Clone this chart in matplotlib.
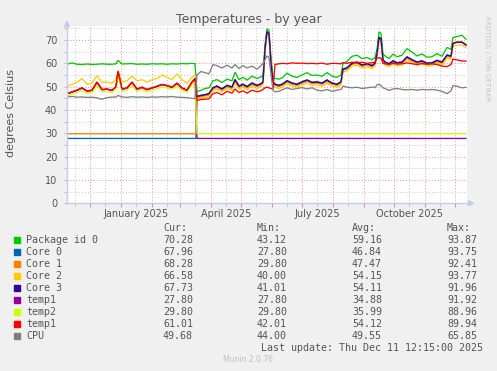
import numpy as np
import matplotlib
matplotlib.use('Agg')
import matplotlib.pyplot as plt
import matplotlib.dates as mdates
from matplotlib.ticker import MultipleLocator, NullFormatter, FuncFormatter
from matplotlib.patches import Rectangle, Polygon
from matplotlib.lines import Line2D

# ---------------- data ----------------
START = np.datetime64('2024-11-08')
SPAN_DAYS = 400

EARLY_DAYS = [0, 5, 10, 15, 20, 25, 30, 35, 40, 45,
              49, 51, 55, 60, 65, 70, 75, 80, 85, 90,
              95, 100, 105, 110, 115, 120, 125, 128]
LATE_DAYS = [130, 134, 138, 142, 146, 150, 155, 160, 165, 168,
             172, 176, 180, 185, 190, 194, 196, 198, 200, 202,
             204, 206, 208, 212, 216, 220, 225, 230, 235, 240,
             245, 250, 255, 260, 265, 270, 274, 276, 280, 285,
             290, 295, 300, 305, 308, 310, 312, 314, 316, 318,
             322, 326, 330, 335, 340, 345, 350, 355, 360, 365,
             370, 375, 380, 384, 386, 390, 395, 399]
FLAT_EARLY_DAYS = [0, 129]
FLAT_LATE_DAYS = [130, 399]

pkg_early = [59.6, 60.2, 59.6, 59.5, 59.7, 59.5, 59.6, 59.8, 59.6, 59.6,
             59.8, 61.3, 59.7, 59.8, 59.9, 59.6, 59.7, 59.6, 59.8, 59.7,
             59.8, 59.6, 59.8, 59.7, 59.9, 59.8, 60.0, 59.8]
pkg_late = [47.8, 48.5, 49.2, 49.5, 52.5, 53.0, 51.8, 53.2, 52.5, 56.2,
            53.0, 54.0, 52.8, 54.5, 53.5, 54.2, 54.8, 68.0, 74.8, 74.2,
            62.0, 54.5, 53.5, 53.2, 54.0, 55.8, 54.5, 54.0, 55.0, 56.0,
            54.8, 55.0, 54.5, 56.0, 54.5, 54.0, 55.0, 60.0, 60.8, 63.0,
            63.5, 62.0, 62.5, 61.5, 62.5, 66.0, 73.5, 72.8, 64.0, 63.2,
            62.0, 64.0, 62.8, 63.5, 66.3, 64.8, 63.2, 64.0, 62.6, 62.8,
            64.2, 63.0, 66.8, 66.0, 71.0, 71.5, 72.0, 70.3]

core0_early = [27.8, 27.8]
core0_late = [45.9, 46.3, 46.6, 47.1, 49.6, 50.3, 49.1, 50.6, 49.9, 53.1,
              50.3, 51.1, 50.1, 51.6, 50.6, 51.3, 52.1, 66.2, 73.8, 72.8,
              60.2, 52.1, 51.1, 50.6, 51.3, 52.6, 51.6, 51.1, 52.1, 52.9,
              51.9, 52.1, 51.6, 52.9, 51.6, 51.1, 52.1, 57.6, 58.1, 60.1,
              60.6, 59.3, 59.9, 59.1, 60.1, 64.2, 71.2, 70.7, 61.6, 60.6,
              59.9, 61.1, 60.3, 60.6, 62.8, 61.6, 60.6, 61.1, 60.1, 60.3,
              61.3, 60.6, 63.6, 63.1, 68.6, 69.1, 69.1, 68.0]

core1_early = [29.8, 29.8]
core1_late = [45.2, 45.7, 46.0, 46.4, 49.0, 49.7, 48.5, 50.0, 49.2, 52.4,
              49.7, 50.4, 49.5, 50.9, 50.0, 50.7, 51.5, 65.5, 73.0, 72.2,
              59.6, 51.5, 50.5, 50.0, 50.7, 52.0, 51.0, 50.5, 51.5, 52.3,
              51.3, 51.5, 51.0, 52.2, 51.0, 50.5, 51.5, 57.0, 57.5, 59.5,
              60.0, 58.7, 59.3, 58.5, 59.5, 63.5, 70.5, 70.0, 61.0, 60.0,
              59.3, 60.5, 59.7, 60.0, 62.2, 61.0, 60.0, 60.5, 59.5, 59.7,
              60.7, 60.0, 63.0, 62.5, 68.8, 69.3, 69.2, 68.3]

core2_early = [50.0, 51.0, 51.8, 53.5, 51.0, 51.5, 54.8, 51.8, 52.0, 51.5,
               53.0, 57.0, 52.0, 52.5, 54.5, 52.5, 53.0, 52.0, 53.0, 53.5,
               55.0, 54.0, 53.0, 55.5, 53.0, 51.5, 54.0, 55.0]
core2_late = [44.5, 45.0, 45.2, 45.8, 48.2, 49.0, 47.8, 49.2, 48.5, 51.5,
              49.0, 49.8, 48.8, 50.2, 49.2, 50.0, 50.8, 64.5, 72.0, 71.5,
              59.0, 50.8, 49.8, 49.2, 50.0, 51.2, 50.2, 49.8, 50.8, 51.5,
              50.5, 50.8, 50.2, 51.5, 50.2, 49.8, 50.8, 56.2, 56.8, 58.8,
              59.2, 58.0, 58.5, 57.8, 58.8, 62.8, 69.8, 69.2, 60.2, 59.2,
              58.5, 59.8, 59.0, 59.2, 61.5, 60.2, 59.2, 59.8, 58.8, 59.0,
              60.0, 59.2, 62.2, 61.8, 67.2, 67.8, 67.8, 66.6]

core3_early = [46.9, 47.7, 48.4, 49.4, 48.1, 48.4, 51.9, 48.7, 48.9, 48.4,
               49.9, 56.4, 48.9, 49.4, 51.9, 48.9, 49.7, 48.7, 49.4, 50.1,
               50.9, 50.4, 49.7, 51.4, 49.4, 48.4, 51.9, 53.4]
core3_late = [45.8, 46.2, 46.5, 47.0, 49.5, 50.2, 49.0, 50.5, 49.8, 53.0,
              50.2, 51.0, 50.0, 51.5, 50.5, 51.2, 52.0, 66.0, 73.5, 72.5,
              60.0, 52.0, 51.0, 50.5, 51.2, 52.5, 51.5, 51.0, 52.0, 52.8,
              51.8, 52.0, 51.5, 52.8, 51.5, 51.0, 52.0, 57.5, 58.0, 60.0,
              60.5, 59.2, 59.8, 59.0, 60.0, 64.0, 71.0, 70.5, 61.5, 60.5,
              59.8, 61.0, 60.2, 60.5, 62.7, 61.5, 60.5, 61.0, 60.0, 60.2,
              61.2, 60.5, 63.5, 63.0, 68.5, 69.0, 69.0, 67.7]

temp1a_early = [46.9, 47.7, 48.4, 49.4, 48.1, 48.4, 51.9, 48.7, 48.9, 48.4,
                49.9, 56.4, 48.9, 49.4, 51.9, 48.9, 49.7, 48.7, 49.4, 50.1,
                50.9, 50.4, 49.7, 51.4, 49.4, 48.4, 51.9, 53.4]
temp1a_late = [27.8, 27.8]

temp2_early = [46.0, 46.8, 47.5, 48.2, 47.2, 47.5, 50.5, 47.8, 48.0, 47.5,
               49.0, 55.0, 48.0, 48.5, 50.5, 48.0, 48.8, 47.8, 48.5, 49.0,
               50.0, 49.5, 48.8, 50.2, 48.5, 47.5, 50.8, 52.2]
temp2_late = [29.8, 29.8]

temp1b_early = [47.0, 47.8, 48.5, 49.5, 48.2, 48.5, 52.0, 48.8, 49.0, 48.5,
                50.0, 56.5, 49.0, 49.5, 52.0, 49.0, 49.8, 48.8, 49.5, 50.2,
                51.0, 50.5, 49.8, 51.5, 49.5, 48.5, 52.0, 53.5]
temp1b_late = [44.1, 44.5, 44.6, 44.8, 47.0, 47.5, 46.5, 48.0, 47.2, 49.0,
               47.5, 48.2, 47.2, 48.5, 47.8, 48.3, 48.8, 49.5, 49.8, 49.5,
               49.2, 49.0, 59.5, 59.8, 60.0, 59.8, 60.2, 60.0, 60.1, 59.9,
               60.0, 59.8, 60.1, 59.6, 60.0, 59.9, 59.8, 60.3, 60.0, 60.5,
               60.2, 60.5, 60.0, 60.3, 60.5, 62.3, 62.3, 62.3, 60.0, 59.8,
               59.5, 60.0, 59.7, 59.8, 60.2, 59.8, 59.5, 59.9, 59.6, 59.8,
               59.5, 58.8, 58.6, 59.5, 61.8, 61.5, 61.0, 61.0]

cpu_early = [45.6, 45.8, 45.5, 45.6, 45.4, 45.5, 45.2, 44.6, 45.3, 45.5,
             45.6, 46.2, 45.6, 45.4, 45.7, 45.5, 45.6, 45.4, 45.6, 45.5,
             45.7, 45.6, 45.8, 45.5, 45.4, 45.3, 45.0, 44.8]
cpu_late = [55.0, 56.5, 56.0, 55.5, 59.5, 59.0, 58.0, 59.2, 58.0, 59.5,
            57.8, 59.0, 58.0, 58.8, 57.5, 59.0, 60.0, 61.5, 63.2, 62.5,
            55.0, 48.5, 47.8, 48.0, 48.8, 49.5, 48.8, 49.2, 49.6, 49.0,
            49.5, 48.5, 48.2, 48.8, 48.0, 48.5, 48.8, 50.2, 49.8, 49.5,
            49.8, 49.2, 49.5, 49.8, 49.6, 50.8, 51.0, 50.5, 49.5, 49.2,
            48.4, 49.0, 49.2, 48.8, 48.6, 48.8, 48.5, 48.8, 48.6, 48.8,
            48.5, 48.0, 47.0, 48.2, 50.5, 50.2, 49.5, 49.7]

labels = ['Package id 0', 'Core 0', 'Core 1', 'Core 2', 'Core 3',
          'temp1', 'temp2', 'temp1', 'CPU']
colors = ['#00CC00', '#0066B3', '#FF8000', '#FFCC00', '#330099',
          '#990099', '#CCFF00', '#FF0000', '#808080']
cur_vals = ['70.28', '67.96', '68.28', '66.58', '67.73', '27.80', '29.80', '61.01', '49.68']
min_vals = ['43.12', '27.80', '29.80', '40.00', '41.01', '27.80', '29.80', '42.01', '44.00']
avg_vals = ['59.16', '46.84', '47.47', '54.15', '54.11', '34.88', '35.99', '54.12', '49.55']
max_vals = ['93.87', '93.75', '92.41', '93.77', '91.96', '91.92', '88.96', '89.94', '65.85']

series = [
    (EARLY_DAYS, pkg_early, LATE_DAYS, pkg_late),
    (FLAT_EARLY_DAYS, core0_early, LATE_DAYS, core0_late),
    (FLAT_EARLY_DAYS, core1_early, LATE_DAYS, core1_late),
    (EARLY_DAYS, core2_early, LATE_DAYS, core2_late),
    (EARLY_DAYS, core3_early, LATE_DAYS, core3_late),
    (EARLY_DAYS, temp1a_early, FLAT_LATE_DAYS, temp1a_late),
    (EARLY_DAYS, temp2_early, FLAT_LATE_DAYS, temp2_late),
    (EARLY_DAYS, temp1b_early, LATE_DAYS, temp1b_late),
    (EARLY_DAYS, cpu_early, LATE_DAYS, cpu_late),
]

# ---------------- figure ----------------
W, H = 497, 371
BG = '#F0F0F0'
TXT = '#555555'
fig = plt.figure(figsize=(W / 100, H / 100), dpi=100, facecolor=BG)

def fx(x):
    return x / W

def fy(y):
    return 1 - y / H

ax = fig.add_axes([fx(67), fy(203.3), 400 / W, (203.3 - 26.0) / H])
ax.set_facecolor('white')

for (d1, v1, d2, v2), c in zip(series, colors):
    days = np.array(list(d1) + list(d2), dtype='timedelta64[D]')
    vals = list(v1) + list(v2)
    ax.plot(START + days, vals, color=c, lw=0.95, solid_joinstyle='miter')

ax.set_xlim(START, START + np.timedelta64(SPAN_DAYS, 'D'))
ax.set_ylim(0, 76)

ax.xaxis.set_major_locator(mdates.MonthLocator(bymonthday=1))
ax.xaxis.set_minor_locator(mdates.MonthLocator(bymonthday=16))
ax.xaxis.set_major_formatter(NullFormatter())

def month_fmt(v, pos):
    d = mdates.num2date(v)
    if d.month in (1, 4, 7, 10):
        return d.strftime('%B %Y')
    return ''

ax.xaxis.set_minor_formatter(FuncFormatter(month_fmt))
ax.yaxis.set_major_locator(MultipleLocator(10))
ax.yaxis.set_minor_locator(MultipleLocator(5))

dots = (0, (1, 2))
ax.grid(which='minor', color='#C8C8C8', linestyle=dots, linewidth=0.7)
ax.grid(which='major', color='#EE9090', linestyle=dots, linewidth=0.7)
ax.set_axisbelow(True)

for s in ('top', 'right'):
    ax.spines[s].set_visible(False)
AXC = '#C8C8F2'
for s in ('left', 'bottom'):
    ax.spines[s].set_color(AXC)
    ax.spines[s].set_linewidth(1.0)

ax.tick_params(axis='x', which='major', length=3, color='#EE9090', width=0.8)
ax.tick_params(axis='x', which='minor', length=2, color='#C0C0C0', width=0.8,
               labelsize=7, labelcolor=TXT, pad=2)
ax.tick_params(axis='y', which='major', length=2, color='#C0C0C0', width=0.8,
               labelsize=7, labelcolor=TXT, pad=5)
ax.tick_params(axis='y', which='minor', length=2, color='#C0C0C0', width=0.8)

# axis arrows
fig.add_artist(Line2D([fx(467), fx(470)], [fy(203.3), fy(203.3)], color=AXC, lw=1.0,
                      transform=fig.transFigure))
fig.add_artist(Polygon([[fx(468.5), fy(200.8)], [fx(468.5), fy(205.8)], [fx(473.5), fy(203.3)]],
                       closed=True, color=AXC, transform=fig.transFigure))
fig.add_artist(Polygon([[fx(64.5), fy(26.5)], [fx(69.5), fy(26.5)], [fx(67), fy(21.5)]],
                       closed=True, color=AXC, transform=fig.transFigure))

# titles
fig.text(fx(248.5), fy(19), 'Temperatures - by year', ha='center', va='center',
         fontsize=9, color=TXT)
fig.text(fx(11), fy(113), 'degrees Celsius', ha='center', va='center',
         rotation=90, fontsize=8, color=TXT)
fig.text(fx(487), fy(59), 'RRDTOOL / TOBI OETIKER', ha='center', va='center',
         rotation=270, fontsize=4.8, color='#C4C4C4')

# legend
MONO = 'DejaVu Sans Mono'
LFS = 7.2
cols_x = [163, 257, 352, 447]
for cx, h in zip(cols_x, ['Cur:', 'Min:', 'Avg:', 'Max:']):
    fig.text(fx(cx), fy(228), h, ha='left', va='center', fontsize=LFS,
             family=MONO, color=TXT)
for i, lab in enumerate(labels):
    yy = 240 + 12 * i
    fig.add_artist(Rectangle((fx(14), fy(yy + 3)), 6 / W, 6 / H, color=colors[i],
                             transform=fig.transFigure))
    fig.text(fx(26), fy(yy), lab, ha='left', va='center', fontsize=LFS,
             family=MONO, color=TXT)
    for cx, v in zip(cols_x, [cur_vals[i], min_vals[i], avg_vals[i], max_vals[i]]):
        fig.text(fx(cx), fy(yy), v, ha='left', va='center', fontsize=LFS,
                 family=MONO, color=TXT)
fig.text(fx(483), fy(348), 'Last update: Thu Dec 11 12:15:00 2025', ha='right',
         va='center', fontsize=LFS, family=MONO, color=TXT)
fig.text(fx(248), fy(360), 'Munin 2.0.76', ha='center', va='center', fontsize=5.5,
         color='#C0C0C0')

fig.savefig('out.png', dpi=100, facecolor=BG)
